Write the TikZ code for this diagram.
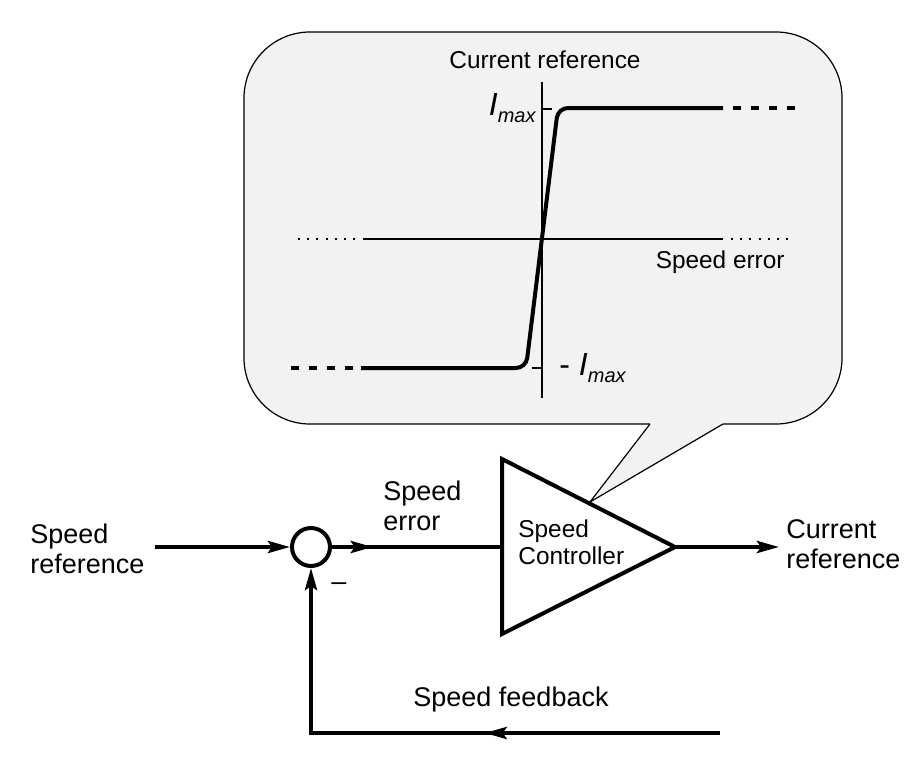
\documentclass[tikz,border=0pt]{standalone}
\usepackage{fontspec}
\setmainfont{Liberation Sans}
\usepackage{tikz}
\usetikzlibrary{arrows.meta}
\usetikzlibrary{decorations.markings}
\usetikzlibrary{calc}
\definecolor{bubble}{RGB}{242,242,242}
\tikzset{l/.style={font=\fontsize{13.5}{15}\selectfont, align=left, inner sep=0pt}}
\tikzset{m/.style={font=\fontsize{12.2}{13.5}\selectfont, align=left, inner sep=0pt}}
\tikzset{sig/.style={line width=2pt}}
\tikzset{axis/.style={line width=0.75pt}}
\tikzset{tip/.style={-{Stealth[length=11pt,width=6pt,inset=2pt]}}}
\tikzset{midtip/.style={postaction={decorate},
  decoration={markings, mark=at position #1 with {\arrow{Stealth[length=11pt,width=6pt,inset=2pt]}}}}}
\newcommand{\imax}{{\fontsize{16}{16}\selectfont\itshape I}\raisebox{-3.5pt}{\fontsize{10}{10}\selectfont\itshape max}}

\begin{document}
\begin{tikzpicture}[x=0.5pt, y=-0.5pt]
        \useasboundingbox (0,0) rectangle (912,767);
        % callout
        \draw[fill=bubble, line width=0.6pt, rounded corners=33pt] (244,32) rectangle (842,424);
        \fill[bubble] (650,424) -- (590,502) -- (723,424) -- (723,421) -- (650,421) -- cycle;
        \draw[line width=0.6pt] (650,424) -- (590,502) -- (723,424);
        % characteristic
        \draw[axis] (542,82) -- (542,398);
        \draw[axis] (363,239) -- (723,239);
        \draw[axis, dash pattern=on 1pt off 3.6pt] (298,239) -- (358,239);
        \draw[axis, dash pattern=on 1pt off 3.6pt] (731,239) -- (790,239);
        \draw[axis] (542,109) -- (552,109);
        \draw[axis] (532,368) -- (542,368);
        \draw[sig, rounded corners=5pt] (361,368) -- (526,368) -- (558,108) -- (723,108);
        \draw[sig, dash pattern=on 3.75pt off 5.25pt] (733,108) -- (797,108);
        \draw[sig, dash pattern=on 3.75pt off 5.25pt] (291,368) -- (355,368);
        \node[m, anchor=base] (ylab) at (545,68) {Current reference};
        \node[m, anchor=base east] (xlab) at (785,268) {Speed error};
        \node[inner sep=0pt, anchor=base east] (imaxtop) at (536,115) {\imax};
        \node[inner sep=0pt, anchor=base west] (imaxbot) at (559,375) {{\fontsize{16}{16}\selectfont - }\imax};
        % loop
        \node[l, anchor=base west] (ref) at (30,573) {Speed\\reference};
        \coordinate (in) at (155,547);
        \node[circle, draw, sig, minimum size=19pt, inner sep=0pt] (sum) at (311,547) {};
        \node[l] (minus) at (339,587) {--};
        \draw[sig, line join=miter] (502,459) -- (675,547) -- (502,634) -- cycle;
        \coordinate (ctrlin) at (502,547);
        \coordinate (ctrlout) at (675,547);
        \node[m, anchor=base west] (ctrl) at (518,564) {Speed\\Controller};
        \node[l, anchor=base west] (err) at (383,530) {Speed\\error};
        \coordinate (out) at (779,547);
        \node[l, anchor=base west] (cur) at (786,568) {Current\\reference};
        \coordinate (fbstart) at (720,733);
        \coordinate (fbcorner) at (311,733);
        \node[l, anchor=base] (fb) at (511,706) {Speed feedback};
        \draw[sig, tip] (in) -- (sum);
        \draw[sig, midtip=0.24] (sum) -- (ctrlin);
        \draw[sig, tip] (ctrlout) -- (out);
        \draw[sig, tip, midtip=0.41] (fbstart) -- (fbcorner) -- (sum);
      \end{tikzpicture}
\end{document}
